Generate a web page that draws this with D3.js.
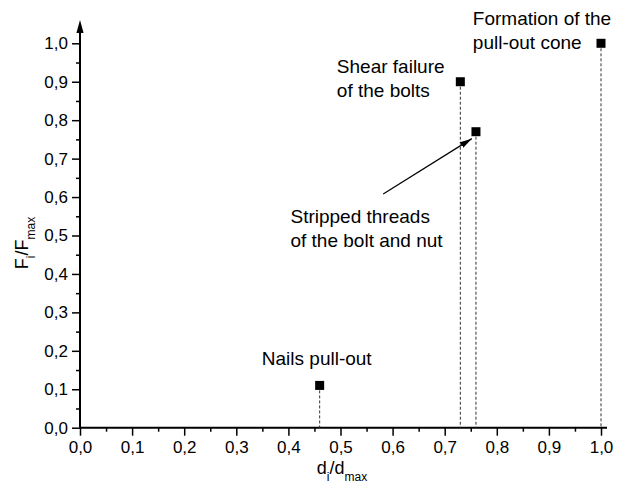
<!DOCTYPE html>
<html lang="en">
<head>
<meta charset="UTF-8">
<title>Failure modes: F/Fmax vs d/dmax</title>
<script src="https://d3js.org/d3.v7.min.js"></script>
<style>
  body { margin: 0; background: #fff; }
  svg { font-family: "Liberation Sans", Arial, sans-serif; }
  .axis line { stroke: #000; stroke-width: 1.5px; }
  .axis path { display: none; }
  .axis text { font-size: 17px; fill: #000; font-family: "Liberation Sans", Arial, sans-serif; }
  .axis-line { stroke: #000; stroke-width: 2px; }
  .note { font-size: 19px; fill: #000; }
  .title { font-size: 18px; fill: #000; }
  .drop { stroke: #333; stroke-width: 1px; stroke-dasharray: 3,2; }
</style>
</head>
<body>
<div id="chart"></div>
<script>
// values
const failureNotes = [
    ["Nails pull-out"],
    ["Shear failure", "of the bolts"],
    ["Stripped threads", "of the bolt and nut"],
    ["Formation of the", "pull-out cone"]
];
const dRatio = [0.46, 0.73, 0.76, 1.0];
const fRatio = [0.11, 0.90, 0.77, 1.0];
const majorTicks = [0, 0.1, 0.2, 0.3, 0.4, 0.5, 0.6, 0.7, 0.8, 0.9, 1.0];
const minorTicks = [0.05, 0.15, 0.25, 0.35, 0.45, 0.55, 0.65, 0.75, 0.85, 0.95];
const tickLabels = ["0,0", "0,1", "0,2", "0,3", "0,4", "0,5", "0,6", "0,7", "0,8", "0,9", "1,0"];

// where the notes sit (left/baseline, in axis units)
const notePos = [[0.349, 0.163], [0.493, 0.923], [0.404, 0.533], [0.754, 1.048]];
// arrow of the "stripped threads" note
const arrowFrom = [0.582, 0.608];
const arrowTo = [0.752, 0.752];

const width = 618, height = 491;
const svg = d3.select("#chart").append("svg")
    .attr("width", width)
    .attr("height", height);

const x = d3.scaleLinear().domain([0, 1]).range([80, 601]);
const y = d3.scaleLinear().domain([0, 1]).range([427.7, 43.3]);

const fmt = d => tickLabels[Math.round(d * 10)];

// minor ticks first, then major ones with labels
svg.append("g").attr("class", "axis")
    .attr("transform", `translate(0,${y(0)})`)
    .call(d3.axisBottom(x).tickValues(minorTicks).tickSize(4).tickFormat(""));
svg.append("g").attr("class", "axis")
    .attr("transform", `translate(0,${y(0)})`)
    .call(d3.axisBottom(x).tickValues(majorTicks).tickSize(8).tickPadding(5).tickFormat(fmt));

svg.append("g").attr("class", "axis")
    .attr("transform", `translate(${x(0)},0)`)
    .call(d3.axisLeft(y).tickValues(minorTicks).tickSize(4).tickFormat(""));
svg.append("g").attr("class", "axis")
    .attr("transform", `translate(${x(0)},0)`)
    .call(d3.axisLeft(y).tickValues(majorTicks).tickSize(8).tickPadding(4).tickFormat(fmt));

// axis lines, y gets an arrow on top
svg.append("line").attr("class", "axis-line")
    .attr("x1", x(0)).attr("x2", x(1) + 6)
    .attr("y1", y(0)).attr("y2", y(0));
svg.append("line").attr("class", "axis-line")
    .attr("x1", x(0)).attr("x2", x(0))
    .attr("y1", y(0)).attr("y2", 30);
svg.append("path")
    .attr("d", `M${x(0)},20 L${x(0) + 3.6},33 L${x(0) - 3.6},33 Z`)
    .attr("fill", "#000");

// dashed drop lines
svg.append("g").selectAll("line")
    .data(dRatio)
    .join("line")
    .attr("class", "drop")
    .attr("x1", d => x(d)).attr("x2", d => x(d))
    .attr("y1", (d, i) => y(fRatio[i])).attr("y2", y(0));

// square markers
const sq = 9;
svg.append("g").selectAll("rect")
    .data(dRatio)
    .join("rect")
    .attr("x", d => x(d) - sq / 2)
    .attr("y", (d, i) => y(fRatio[i]) - sq / 2)
    .attr("width", sq).attr("height", sq)
    .attr("fill", "#000");

// notes
failureNotes.forEach((lines, i) => {
    const t = svg.append("text").attr("class", "note")
        .attr("x", x(notePos[i][0]))
        .attr("y", y(notePos[i][1]));
    lines.forEach((s, j) => {
        t.append("tspan")
            .attr("x", x(notePos[i][0]))
            .attr("dy", j === 0 ? 0 : 24)
            .text(s);
    });
});

svg.append("defs").append("marker")
    .attr("id", "head")
    .attr("markerUnits", "userSpaceOnUse")
    .attr("viewBox", "0 0 12 8")
    .attr("refX", 12).attr("refY", 4)
    .attr("markerWidth", 12).attr("markerHeight", 8)
    .attr("orient", "auto")
    .append("path")
    .attr("d", "M0,0.8 L12,4 L0,7.2 Z")
    .attr("fill", "#000");

svg.append("line")
    .attr("x1", x(arrowFrom[0])).attr("y1", y(arrowFrom[1]))
    .attr("x2", x(arrowTo[0])).attr("y2", y(arrowTo[1]))
    .attr("stroke", "#000").attr("stroke-width", 1.2)
    .attr("marker-end", "url(#head)");

// axis titles with lowered subscripts
function subTitle(t, main, sub1, mid, sub2) {
    t.append("tspan").text(main);
    t.append("tspan").attr("font-size", 12).attr("dy", 7).text(sub1);
    t.append("tspan").attr("dy", -7).text(mid);
    t.append("tspan").attr("font-size", 12).attr("dy", 7).text(sub2);
}

subTitle(svg.append("text").attr("class", "title")
    .attr("x", 342).attr("y", 474)
    .attr("text-anchor", "middle"), "d", "i", "/d", "max");

subTitle(svg.append("text").attr("class", "title")
    .attr("transform", "translate(28,243) rotate(-90)")
    .attr("text-anchor", "middle"), "F", "i", "/F", "max");
</script>
</body>
</html>
